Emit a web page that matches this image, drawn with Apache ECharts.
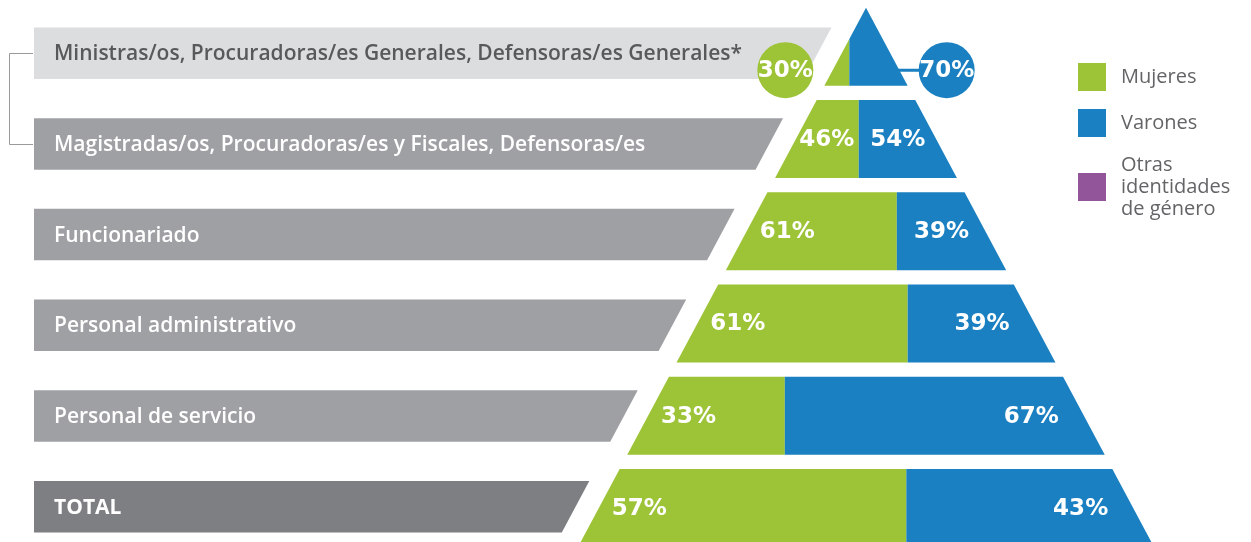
<!DOCTYPE html>
<html lang="es">
<head>
<meta charset="UTF-8">
<title>Pirámide por género</title>
<script src="https://cdn.jsdelivr.net/npm/echarts@6/dist/echarts.min.js"></script>
<style>
  html, body { margin: 0; padding: 0; background: #fff; }
  #container { width: 1251px; height: 542px; }
</style>
</head>
<body>
<div id="container"></div>
<script>
// escalones de arriba hacia abajo
var categorias = [
    'Ministras/os, Procuradoras/es Generales, Defensoras/es Generales*',
    'Magistradas/os, Procuradoras/es y Fiscales, Defensoras/es',
    'Funcionariado',
    'Personal administrativo',
    'Personal de servicio',
    'TOTAL'
];
var mujeres = [30, 46, 61, 61, 33, 57];
var varones = [70, 54, 39, 39, 67, 43];
var otras   = [0, 0, 0, 0, 0, 0];

var VERDE = '#9dc337', AZUL = '#1a80c1', VIOLETA = '#93559a';
var ALTO_ESCALON = 78 / 92.25;   // parte de la banda que ocupa cada escalon
var SEMIANCHO_BASE = 288;        // semiancho de la piramide al pie (eje x)
var X_BARRA = -832;              // borde izquierdo de las barras de rotulos
var FUENTE = '"Open Sans", sans-serif';
var FUENTE_PCT = 'bold 23px "DejaVu Sans", sans-serif';

var dom = document.getElementById('container');
var myChart = echarts.init(dom);

// geometria comun de la piramide a partir de los ejes
function piramide(api) {
    var n = categorias.length;
    var c0 = api.coord([0, 0]), cN = api.coord([0, n - 1]);
    var h = api.size([0, 0])[1] * ALTO_ESCALON;
    var yA = c0[1] - h / 2, yB = cN[1] + h / 2;
    var base = api.size([SEMIANCHO_BASE * 2, 0])[0] / 2;
    return {
        cx: c0[0], c0: c0[1], h: h,
        half: function (y) { return Math.max(0, (y - yA) / (yB - yA) * base); }
    };
}

// recorta un poligono contra una recta vertical
function recortarX(pts, xv, mayor) {
    var out = [];
    for (var i = 0; i < pts.length; i++) {
        var a = pts[i], b = pts[(i + 1) % pts.length];
        var ina = mayor ? a[0] >= xv : a[0] <= xv;
        var inb = mayor ? b[0] >= xv : b[0] <= xv;
        if (ina) out.push(a);
        if (ina !== inb) {
            var t = (xv - a[0]) / (b[0] - a[0]);
            out.push([xv, a[1] + t * (b[1] - a[1])]);
        }
    }
    return out;
}

// barras grises con el nombre de cada escalon
function renderFila(params, api) {
    var fila = api.value(1);
    var p = piramide(api);
    var c = api.coord([0, fila]);
    var yc = p.c0 + 6.5 + (c[1] - p.c0) * 0.983;
    var top = yc - 25.75, bot = yc + 25.75;
    var xL = api.coord([X_BARRA, fila])[0];
    var ultimo = fila === categorias.length - 1;
    var fondo = fila === 0 ? '#dcdddf' : (ultimo ? '#7e7f83' : '#9fa0a4');
    var hijos = [{
        type: 'polygon',
        shape: { points: [[xL, top], [p.cx - p.half(top) - 24, top],
                          [p.cx - p.half(bot) - 24, bot], [xL, bot]] },
        style: { fill: fondo }
    }, {
        type: 'text', x: xL + 20, y: yc + 1,
        style: {
            text: categorias[fila], fill: fila === 0 ? '#58595b' : '#ffffff',
            font: (ultimo ? 'bold' : '600') + ' 21px ' + FUENTE,
            align: 'left', verticalAlign: 'middle'
        }
    }];
    if (fila === 0) {
        // corchete que une los dos primeros escalones
        var c1 = api.coord([0, 1]);
        var y1 = p.c0 + 6.5 + (c1[1] - p.c0) * 0.983;
        hijos.push({
            type: 'polyline',
            shape: { points: [[xL - 1, Math.round(yc) + 0.5], [9.5, Math.round(yc) + 0.5],
                              [9.5, Math.round(y1) + 0.5], [xL - 1, Math.round(y1) + 0.5]] },
            style: { stroke: '#9a9a9c', lineWidth: 1, fill: null }
        });
    }
    return { type: 'group', children: hijos };
}

// tramo de un escalon para una serie (mujeres, varones, otras)
function renderTramo(params, api) {
    var fila = api.value(1);
    var ini = api.value(2), fin = api.value(3);
    if (fin - ini <= 0) return;
    var f0 = ini / 100, f1 = fin / 100;
    var p = piramide(api);
    var c = api.coord([0, fila]);
    var yT = c[1] - p.h / 2, yB = c[1] + p.h / 2;
    var hT = p.half(yT), hB = p.half(yB), hC = p.half(c[1]);
    var pico = hT < 10;
    // los cortes se reparten sobre el ancho de la base del escalon
    var x0 = p.cx - hB + f0 * 2 * hB, x1 = p.cx - hB + f1 * 2 * hB;
    var pts = [[p.cx - hT, yT], [p.cx + hT, yT], [p.cx + hB, yB], [p.cx - hB, yB]];
    if (f0 > 0) pts = recortarX(pts, x0, true);
    if (f1 < 1) pts = recortarX(pts, x1, false);
    var color = api.visual('color');
    var texto = (fin - ini) + '%';
    var hijos = [{ type: 'polygon', shape: { points: pts }, style: { fill: color } }];
    var estilo = { text: texto, fill: '#ffffff', font: FUENTE_PCT, verticalAlign: 'middle' };
    if (pico) {
        // el vertice es muy angosto: el porcentaje va en un circulo al costado
        var izq = f0 === 0;
        var cy = yB - 15.5;
        var ccx = izq ? p.cx - hB - 39 : p.cx + hB + 39;
        if (!izq) {
            hijos.push({ type: 'line',
                shape: { x1: p.cx + p.half(cy) - 2, y1: cy, x2: ccx, y2: cy },
                style: { stroke: color, lineWidth: 3 } });
        }
        hijos.push({ type: 'circle', shape: { cx: ccx, cy: cy, r: 28 }, style: { fill: color } });
        estilo.align = 'center';
        hijos.push({ type: 'text', x: ccx, y: cy + 1, style: estilo });
    } else {
        var anchoTexto = 56;
        var a = f0 === 0 ? p.cx - hC : x0;
        var b = f1 === 1 ? p.cx + hC : x1;
        var libre = Math.max(0, (b - a - anchoTexto) / 2);
        if (f0 === 0) {
            estilo.align = 'left';
            hijos.push({ type: 'text', x: a + Math.min(13, libre), y: c[1] + 1, style: estilo });
        } else {
            estilo.align = 'right';
            hijos.push({ type: 'text', x: b - Math.min(25, libre), y: c[1] + 1, style: estilo });
        }
    }
    return { type: 'group', children: hijos };
}

function datosTramo(desde, valores) {
    return categorias.map(function (c, i) {
        var a = desde ? desde[i] : 0;
        return [0, i, a, a + valores[i]];
    });
}

var acumMV = mujeres.map(function (m, i) { return m + varones[i]; });

option = {
    animation: false,
    grid: { left: 0, top: 0.6, width: 1251, height: 553.5, outerBoundsMode: 'none' },
    xAxis: { type: 'value', min: -866, max: 385, show: false },
    yAxis: { type: 'category', data: categorias, inverse: true, show: false },
    legend: {
        orient: 'vertical',
        left: 1078,
        top: 63,
        padding: 0,
        itemWidth: 28,
        itemHeight: 28,
        itemGap: 18,
        icon: 'rect',
        selectedMode: false,
        formatter: function (name) {
            return name === 'Otras identidades de género' ? 'Otras\nidentidades\nde género' : name;
        },
        textStyle: { fontFamily: FUENTE, fontSize: 20, color: '#636466', lineHeight: 22, padding: [0, 0, 0, 10] },
        data: ['Mujeres', 'Varones', {
            name: 'Otras identidades de género',
            textStyle: { padding: [0, 0, -34, 10] }
        }]
    },
    series: [
        {
            name: 'filas', type: 'custom', z: 1,
            renderItem: renderFila,
            encode: { x: 0, y: 1 },
            data: categorias.map(function (c, i) { return [0, i]; })
        },
        {
            name: 'Mujeres', type: 'custom', z: 2,
            itemStyle: { color: VERDE },
            renderItem: renderTramo,
            encode: { x: 0, y: 1 },
            data: datosTramo(null, mujeres)
        },
        {
            name: 'Varones', type: 'custom', z: 2,
            itemStyle: { color: AZUL },
            renderItem: renderTramo,
            encode: { x: 0, y: 1 },
            data: datosTramo(mujeres, varones)
        },
        {
            name: 'Otras identidades de género', type: 'custom', z: 2,
            itemStyle: { color: VIOLETA },
            renderItem: renderTramo,
            encode: { x: 0, y: 1 },
            data: datosTramo(acumMV, otras)
        }
    ]
};

if (option && typeof option === "object") {
    myChart.setOption(option, true);
}
</script>
</body>
</html>
